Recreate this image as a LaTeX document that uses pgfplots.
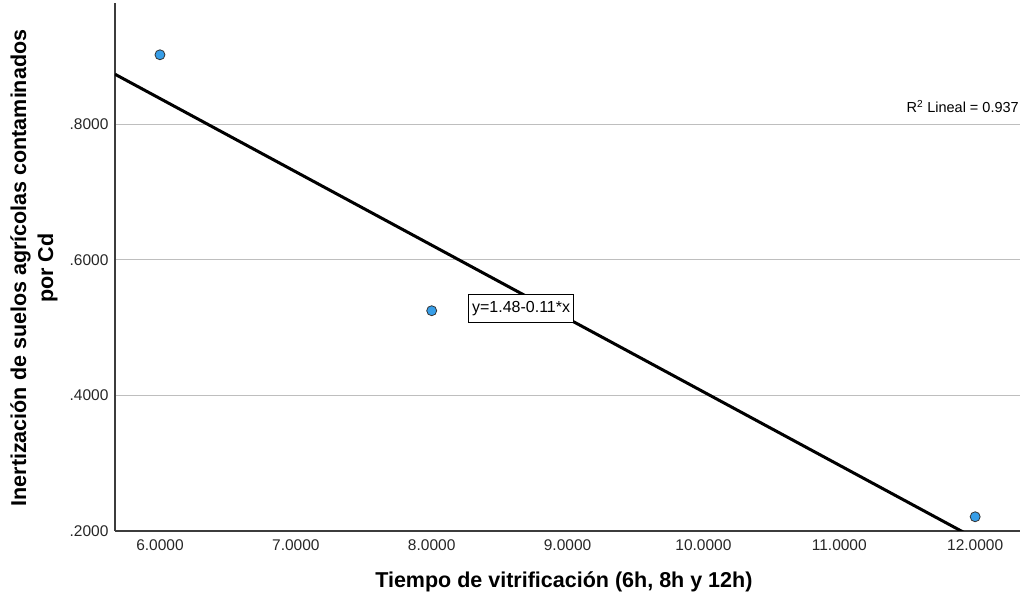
\documentclass[border=0pt]{standalone}
\usepackage{pgfplots}
\pgfplotsset{compat=1.18}
\usepackage{fontspec}
\setmainfont{Liberation Sans}
\definecolor{ptblue}{RGB}{55,158,232}
\definecolor{gridgray}{RGB}{190,190,190}
\definecolor{axgray}{RGB}{60,60,60}
\begin{document}
\begin{tikzpicture}
\begin{axis}[
  at={(0,0)}, anchor=south west,
  scale only axis, width=905pt, height=528pt,
  xmin=5.669, xmax=12.33, ymin=0.2, ymax=0.979,
  axis x line=bottom, axis y line=left,
  axis line style={-, axgray, line width=1.2pt},
  xtick={6,7,8,9,10,11,12},
  ytick={0.2,0.4,0.6,0.8},
  major tick length=0pt,
  ymajorgrids, grid style={gridgray, line width=0.9pt},
  /pgf/number format/assume math mode=true,
  tick label style={font=\fontsize{15.5}{17}\selectfont, text=black!85},
  xticklabel style={yshift=-5pt, /pgf/number format/fixed, /pgf/number format/fixed zerofill, /pgf/number format/precision=4},
  yticklabel style={xshift=-3pt, /pgf/number format/fixed, /pgf/number format/fixed zerofill, /pgf/number format/precision=4, /pgf/number format/skip 0.},
  xlabel={Tiempo de vitrificación (6h, 8h y 12h)},
  ylabel={Inertización de suelos agrícolas contaminados\\por Cd},
  xlabel style={at={(axis description cs:0.496,-0.0966)}, anchor=center, font=\fontsize{21.5}{25}\selectfont\bfseries},
  ylabel style={at={(axis description cs:-0.0895,0.498)}, anchor=center, align=center, font=\fontsize{21.5}{27}\selectfont\bfseries},
]
\addplot[black, line width=3pt] coordinates {(5.669,0.8739) (12.33,0.1532)};
\addplot[only marks, mark=*, mark size=5pt, mark options={fill=ptblue, draw=black!80, line width=0.8pt}]
  coordinates {(6,0.9026) (8,0.5250) (12,0.2210)};
\node[anchor=east, inner sep=1pt, font=\fontsize{14.5}{16}\selectfont] at (axis cs:12.33,0.826) {R\textsuperscript{2} Lineal = 0.937};
\node[draw=black, fill=white, line width=0.8pt, inner xsep=3.5pt, inner ysep=6.5pt, font=\fontsize{16}{18}\selectfont] at (axis cs:8.658,0.5284) {y=1.48-0.11*x};
\end{axis}
\pgfresetboundingbox
\path (-115pt,-70pt) rectangle (906pt,531pt);
\end{tikzpicture}
\end{document}
